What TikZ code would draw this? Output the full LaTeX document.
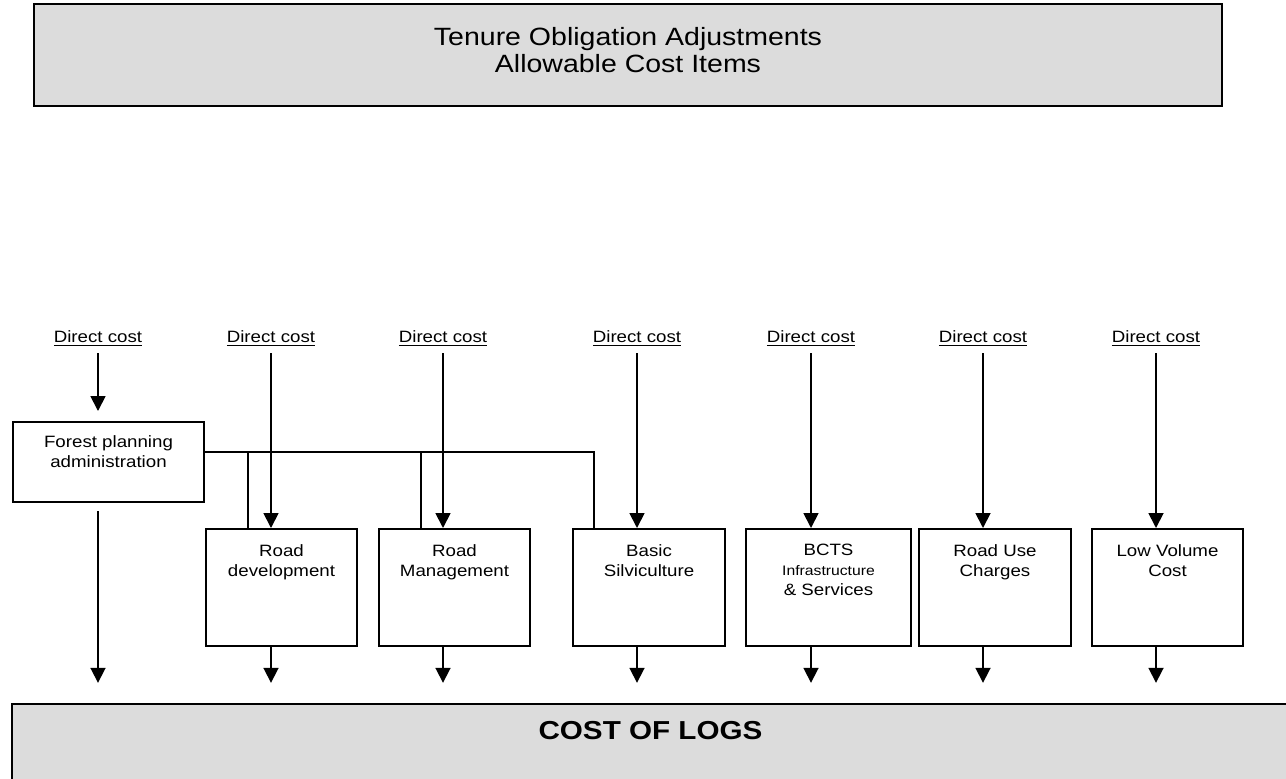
\documentclass[tikz,border=0pt]{standalone}
\usepackage{fontspec}
\setmainfont{Liberation Sans}[FakeStretch=1.14]
\usetikzlibrary{arrows.meta,positioning}
\definecolor{panelgray}{RGB}{220,220,220}

\begin{document}
\begin{tikzpicture}[x=0.5pt,y=-0.5pt,>={Triangle[length=7.5pt,width=7.5pt]},
  panel/.style={draw,line width=1.2pt,fill=panelgray,inner sep=0pt},
  box/.style={draw,line width=1pt,minimum height=58.5pt,inner sep=0pt},
  boxtxt/.style={inner sep=0pt,align=center,font=\fontsize{8.2pt}{10pt}\selectfont},
  dc/.style={inner sep=0pt,anchor=base,font=\fontsize{8.2pt}{10pt}\selectfont},
  arr/.style={->,line width=0.9pt},
  link/.style={line width=0.9pt}]
\useasboundingbox (0,0) rectangle (1286,778);
\clip (0,0) rectangle (1286,778);
% header and footer panels
\node[panel,minimum width=594pt,minimum height=51pt] (title) at (628,55) {};
\node[inner sep=0pt,align=center,font=\fontsize{12.5pt}{13.8pt}\selectfont,below=12pt of title.north] (title-txt)
  {Tenure Obligation Adjustments\\Allowable Cost Items};
\node[panel,minimum width=638.5pt,minimum height=51pt] (logs) at (650.5,755) {};
\node[inner sep=0pt,font=\fontsize{13pt}{15pt}\selectfont\bfseries,below=9pt of logs.north] (logs-txt) {COST OF LOGS};
% cost item boxes
\node[draw,line width=1pt,minimum width=95.5pt,minimum height=40pt,inner sep=0pt] (forest) at (108.5,462) {};
\node[boxtxt,below=7pt of forest.north] (forest-txt) {Forest planning\\administration};
\node[box,minimum width=75.5pt] (roaddev) at (281.5,587.5) {};
\node[boxtxt,below=8pt of roaddev.north] (roaddev-txt) {Road\\development};
\node[box,minimum width=75.5pt] (roadmgmt) at (454.5,587.5) {};
\node[boxtxt,below=8pt of roadmgmt.north] (roadmgmt-txt) {Road\\Management};
\node[box,minimum width=76pt] (silvi) at (649,587.5) {};
\node[boxtxt,below=8pt of silvi.north] (silvi-txt) {Basic\\Silviculture};
\node[box,minimum width=82.5pt] (bcts) at (828.5,587.5) {};
\node[boxtxt,below=8pt of bcts.north] (bcts-txt)
  {BCTS\\{\fontsize{6.9pt}{10pt}\selectfont Infrastructure}\\\& Services};
\node[box,minimum width=76pt] (roaduse) at (995,587.5) {};
\node[boxtxt,below=8pt of roaduse.north] (roaduse-txt) {Road Use\\Charges};
\node[box,minimum width=75.5pt] (lowvol) at (1167.5,587.5) {};
\node[boxtxt,below=8pt of lowvol.north] (lowvol-txt) {Low Volume\\Cost};
% direct cost inputs
\foreach \nm/\px in {forest/98,roaddev/271,roadmgmt/443,silvi/637,bcts/811,roaduse/983,lowvol/1156}
  \node[dc] (dc-\nm) at (\px,342) {\underline{Direct cost}};
\draw[arr] ([yshift=-5.5pt]dc-forest.base) -- ([yshift=5pt]dc-forest.base |- forest.north);
\draw[arr] ([yshift=-4pt]dc-forest.base |- forest.south) -- ([yshift=10pt]dc-forest.base |- logs.north);
\foreach \nm in {roaddev,roadmgmt,silvi,bcts,roaduse,lowvol}{
  \draw[arr] ([yshift=-5.5pt]dc-\nm.base) -- (dc-\nm.base |- \nm.north);
  \draw[arr] (dc-\nm.base |- \nm.south) -- ([yshift=10pt]dc-\nm.base |- logs.north);
}
% shared planning costs
\coordinate (bus) at ([yshift=5pt]forest.east);
\draw[link] (bus) -| ([xshift=11pt]silvi.north west);
\draw[link] (bus) -| ([xshift=21.5pt]roaddev.north west);
\draw[link] (bus) -| ([xshift=21.5pt]roadmgmt.north west);
\end{tikzpicture}
\end{document}
